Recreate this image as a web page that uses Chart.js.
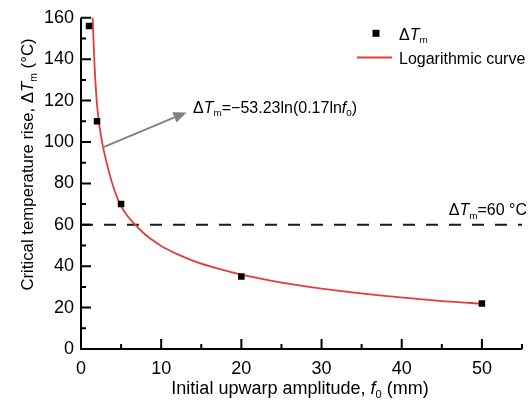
<!DOCTYPE html>
<html>
<head>
<meta charset="utf-8">
<script src="https://cdn.jsdelivr.net/npm/chart.js@4.4.0/dist/chart.umd.min.js"></script>
<style>
html,body{margin:0;padding:0;background:#fff;}
#wrap{width:532px;height:401px;}
</style>
</head>
<body>
<div id="wrap"><canvas id="c" width="532" height="401"></canvas></div>
<script>
// ---- data ----
const pointF = [1, 2, 5, 20, 50];
const pointT = [156, 110, 70, 35, 22];
const curveF = [1.45, 1.55, 1.7, 1.85, 2.0, 2.25, 2.5, 2.75, 3.2, 3.6, 4.1, 4.8, 5.5, 6.8, 8, 9, 10, 11, 12, 14, 17, 20, 24, 28, 32, 37, 42, 46, 50];
const curveT = [161, 150, 136, 126, 118, 109, 103, 97.5, 90, 84, 77.5, 70.5, 65.8, 59.8, 55.3, 52.4, 49.8, 47.7, 45.8, 42.6, 38.9, 35.9, 32.8, 30.3, 28.2, 26.0, 24.2, 22.9, 21.9];
const refF = [0, 55];
const refT = [60, 60];
const xTicks = [0, 10, 20, 30, 40, 50];
const xMinor = [5, 15, 25, 35, 45, 55];
const yTicks = [0, 20, 40, 60, 80, 100, 120, 140, 160];
const yMinor = [10, 30, 50, 70, 90, 110, 130, 150];

const FONT = '"Liberation Sans", Arial, Helvetica, sans-serif';
const RED = '#e63b3b';

function drawRich(ctx, segs, x, y, size, align) {
  const fonts = segs.map(s => {
    const sz = s.sub ? size * 0.62 : size;
    return (s.it ? 'italic ' : '') + sz + 'px ' + FONT;
  });
  let total = 0;
  const ws = segs.map((s, i) => { ctx.font = fonts[i]; const w = ctx.measureText(s.t).width; total += w; return w; });
  let cx = align === 'center' ? x - total / 2 : (align === 'right' ? x - total : x);
  ctx.textAlign = 'left';
  ctx.textBaseline = 'alphabetic';
  segs.forEach((s, i) => {
    ctx.font = fonts[i];
    ctx.fillText(s.t, cx, y + (s.sub ? size * 0.22 : 0));
    cx += ws[i];
  });
}

const decor = {
  id: 'decor',
  afterDatasetsDraw(chart) {
    const ctx = chart.ctx;
    const a = chart.chartArea;
    const xs = chart.scales.x, ys = chart.scales.y;
    ctx.save();
    ctx.strokeStyle = '#000';
    ctx.lineWidth = 2;
    ctx.beginPath();
    ctx.moveTo(a.left, a.top); ctx.lineTo(a.left, a.bottom + 1);
    ctx.moveTo(a.left - 1, a.bottom); ctx.lineTo(a.right, a.bottom);
    xTicks.forEach(v => { const p = xs.getPixelForValue(v); ctx.moveTo(p, a.bottom); ctx.lineTo(p, a.bottom - 10); });
    xMinor.forEach(v => { const p = xs.getPixelForValue(v); ctx.moveTo(p, a.bottom); ctx.lineTo(p, a.bottom - 5); });
    yTicks.forEach(v => { const p = ys.getPixelForValue(v); ctx.moveTo(a.left, p); ctx.lineTo(a.left + 10, p); });
    yMinor.forEach(v => { const p = ys.getPixelForValue(v); ctx.moveTo(a.left, p); ctx.lineTo(a.left + 5, p); });
    ctx.stroke();

    // arrow
    const x1 = xs.getPixelForValue(2.66), y1 = ys.getPixelForValue(97.3);
    const x2 = xs.getPixelForValue(13.15), y2 = ys.getPixelForValue(114.3);
    const ang = Math.atan2(y2 - y1, x2 - x1);
    const hl = 13, hw = 5.5;
    ctx.strokeStyle = '#808080';
    ctx.fillStyle = '#808080';
    ctx.lineWidth = 2;
    ctx.beginPath();
    ctx.moveTo(x1, y1);
    ctx.lineTo(x2 - hl * Math.cos(ang), y2 - hl * Math.sin(ang));
    ctx.stroke();
    ctx.beginPath();
    ctx.moveTo(x2, y2);
    ctx.lineTo(x2 - hl * Math.cos(ang) + hw * Math.sin(ang), y2 - hl * Math.sin(ang) - hw * Math.cos(ang));
    ctx.lineTo(x2 - hl * Math.cos(ang) - hw * Math.sin(ang), y2 - hl * Math.sin(ang) + hw * Math.cos(ang));
    ctx.closePath();
    ctx.fill();

    ctx.fillStyle = '#000';
    // equation
    drawRich(ctx, [{t:'Δ'},{t:'T',it:1},{t:'m',sub:1},{t:'=−53.23ln(0.17ln'},{t:'f',it:1},{t:'0',sub:1},{t:')'}],
      xs.getPixelForValue(13.97), 112.5, 16, 'left');
    // ref label
    drawRich(ctx, [{t:'Δ'},{t:'T',it:1},{t:'m',sub:1},{t:'=60 °C'}], 527, 215, 16, 'right');

    // legend
    ctx.fillRect(376 - 3.5, 33.3 - 3.5, 7, 7);
    drawRich(ctx, [{t:'Δ'},{t:'T',it:1},{t:'m',sub:1}], 399, 39.5, 16, 'left');
    ctx.strokeStyle = RED; ctx.lineWidth = 1.8;
    ctx.beginPath(); ctx.moveTo(357, 57.5); ctx.lineTo(392, 57.5); ctx.stroke();
    drawRich(ctx, [{t:'Logarithmic curve'}], 399, 63.5, 16, 'left');

    // axis titles
    drawRich(ctx, [{t:'Initial upwarp amplitude, '},{t:'f',it:1},{t:'0',sub:1},{t:' (mm)'}], 300, 394, 18, 'center');
    ctx.save();
    ctx.translate(33, 164.5);
    ctx.rotate(-Math.PI / 2);
    drawRich(ctx, [{t:'Critical temperature rise, Δ'},{t:'T',it:1},{t:'m',sub:1},{t:' (°C)'}], 0, 0, 16.8, 'center');
    ctx.restore();
    ctx.restore();
  }
};

const tickFont = { family: FONT, size: 18 };
new Chart(document.getElementById('c'), {
  type: 'scatter',
  data: {
    datasets: [
      { label: 'ΔTm', data: pointF.map((f, i) => ({x: f, y: pointT[i]})), pointStyle: 'rect', pointRadius: 4.6,
        backgroundColor: '#000', borderColor: '#000', borderWidth: 0, order: 0 },
      { type: 'line', label: 'Logarithmic curve', data: curveF.map((f, i) => ({x: f, y: curveT[i]})),
        borderColor: RED, borderWidth: 1.8, pointRadius: 0, cubicInterpolationMode: 'monotone', fill: false, order: 1 },
      { type: 'line', label: 'ref', data: refF.map((f, i) => ({x: f, y: refT[i]})),
        borderColor: '#1a1a1a', borderWidth: 2, borderDash: [12, 11], pointRadius: 0, fill: false, order: 2 }
    ]
  },
  options: {
    responsive: false,
    animation: false,
    events: [],
    layout: { padding: { top: 13, right: 10, left: 0, bottom: 0 } },
    plugins: { legend: { display: false }, tooltip: { enabled: false } },
    scales: {
      x: {
        type: 'linear', min: 0, max: 55,
        grid: { display: false, drawTicks: false },
        border: { display: false },
        afterBuildTicks: s => { s.ticks = xTicks.map(v => ({ value: v })); },
        afterFit: s => { s.height = 52; },
        ticks: { font: tickFont, color: '#000', padding: 9, maxRotation: 0, autoSkip: false }
      },
      y: {
        type: 'linear', min: 0, max: 160,
        grid: { display: false, drawTicks: false },
        border: { display: false },
        afterBuildTicks: s => { s.ticks = yTicks.map(v => ({ value: v })); },
        afterFit: s => { s.width = 81; },
        ticks: { font: tickFont, color: '#000', padding: 7, autoSkip: false }
      }
    }
  },
  plugins: [decor]
});
</script>
</body>
</html>
